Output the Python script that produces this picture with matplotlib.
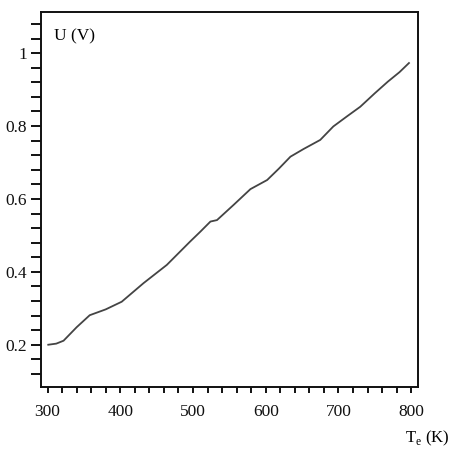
import matplotlib.pyplot as plt
from matplotlib.ticker import MultipleLocator

# values
temp = [301, 312, 322, 340, 358, 380, 402, 432, 464, 482, 496, 510, 524, 533,
        556, 579, 602, 618, 634, 652, 675, 693, 712, 730, 750, 768, 784, 797]
volt = [0.200, 0.203, 0.211, 0.248, 0.281, 0.297, 0.318, 0.369, 0.419, 0.455,
        0.483, 0.510, 0.538, 0.542, 0.584, 0.627, 0.652, 0.683, 0.716, 0.737,
        0.762, 0.799, 0.827, 0.853, 0.890, 0.922, 0.948, 0.973]

x_major = [300, 400, 500, 600, 700, 800]
y_major = [0.2, 0.4, 0.6, 0.8, 1.0]
y_labels = ["0.2", "0.4", "0.6", "0.8", "1"]

plt.rcParams["font.family"] = ["Liberation Serif", "DejaVu Serif"]

fig = plt.figure(figsize=(4.49, 4.55), dpi=100)
ax = fig.add_axes([41 / 449, 1 - 387 / 455, (417.7 - 41) / 449, (387 - 12) / 455])

ax.plot(temp, volt, color="#444444", linewidth=1.3)

ax.set_xlim(291, 809)
ax.set_ylim(0.084, 1.113)

ax.set_xticks(x_major)
ax.set_yticks(y_major)
ax.set_yticklabels(y_labels)
ax.xaxis.set_minor_locator(MultipleLocator(20))
ax.yaxis.set_minor_locator(MultipleLocator(0.04))
ax.tick_params(which="both", direction="out", width=1.4, labelsize=12.5,
               colors="#111111")
ax.tick_params(axis="x", which="both", length=4.5, pad=8)
ax.tick_params(axis="y", which="both", length=7, pad=3)

for s in ax.spines.values():
    s.set_linewidth(1.4)
    s.set_color("#111111")

ax.text(0.035, 0.935, "U (V)", transform=ax.transAxes, fontsize=12.5, va="center")
fig.text(405 / 449, 1 - 438 / 455, "T$_\\mathregular{e}$ (K)", fontsize=12, va="center")

fig.savefig("out.png", dpi=100)
